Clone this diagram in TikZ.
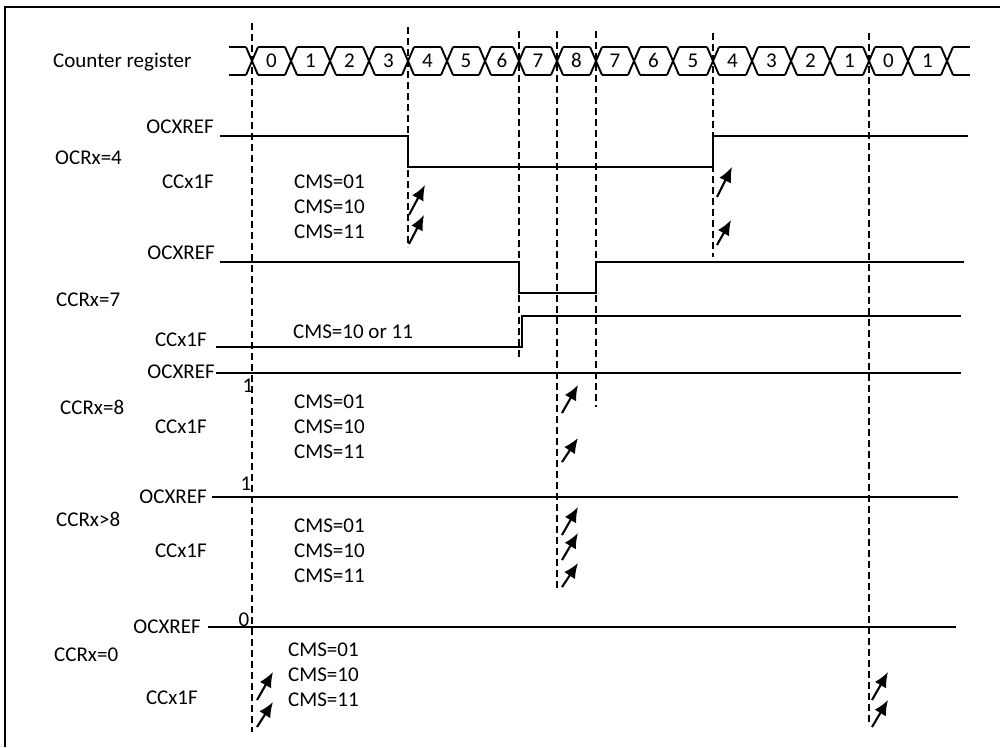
\documentclass[tikz,border=0pt]{standalone}
\usepackage{fontspec}
\setmainfont{Carlito}
\usetikzlibrary{arrows.meta}
\begin{document}
\begin{tikzpicture}[x=1pt,y=-1pt,
  every node/.style={font=\fontsize{21}{23}\selectfont, inner sep=0pt, text height=13.5pt, text depth=0pt},
  sig/.style={line width=2.1pt, line join=miter},
  bus/.style={line width=1.9pt},
  guide/.style={line width=1.8pt, dash pattern=on 7pt off 4pt},
  flag/.style={line width=2.1pt, -{Latex[length=15pt,width=13pt]}},
  lab/.style={anchor=east},
  grp/.style={anchor=west},
  cms/.style={anchor=west}]
\useasboundingbox (0,0) rectangle (1000,747);
% frame
\draw[line width=2.5pt] (5,747) -- (5,7) -- (1000,7);

% counter register bus
\node[grp] (cnt) at (53,61) {Counter register};
\def\bt{47}\def\bb{75}\def\bm{61}
\draw[bus] (229,\bt) -- (246,\bt) (229,\bb) -- (246,\bb);
\draw[bus] (953,\bt) -- (970,\bt) (953,\bb) -- (970,\bb);
\foreach \c in {252,291,330,369,408,447,485,519,557,596,634,673,713,752,791,830,869,908,947}{
  \draw[bus] (\c-6,\bt) -- (\c+6,\bb) (\c-6,\bb) -- (\c+6,\bt);
}
\foreach \a/\b/\v [count=\i] in {252/291/0,291/330/1,330/369/2,369/408/3,408/447/4,447/485/5,485/519/6,519/557/7,557/596/8,596/634/7,634/673/6,673/713/5,713/752/4,752/791/3,791/830/2,830/869/1,869/908/0,908/947/1}{
  \draw[bus] (\a+6,\bt) -- (\b-6,\bt) (\a+6,\bb) -- (\b-6,\bb);
  \node (cell\i) at ({(\a+\b)/2},\bm) {\v};
}

% dashed guides
\draw[guide] (252,23) -- (252,732);
\draw[guide] (408,27) -- (408,247);
\draw[guide] (519,31) -- (519,358);
\draw[guide] (557,31) -- (557,588);
\draw[guide] (596,31) -- (596,407);
\draw[guide] (713,33) -- (713,257);
\draw[guide] (869,33) -- (869,724);

% row 1: OCRx=4
\node[lab] (r1ref) at (214,127) {OCXREF};
\node[grp] (r1name) at (55,158) {OCRx=4};
\node[lab] (r1cc) at (214,182) {CCx1F};
\node[cms] (r1a) at (294,182) {CMS=01};
\node[cms] (r1b) at (294,207) {CMS=10};
\node[cms] (r1c) at (294,232) {CMS=11};
\draw[sig] (220,136) -- (408,136) -- (408,167) -- (713,167) -- (713,136) -- (968,136);
\draw[flag] (409,215) -- (425,185);
\draw[flag] (409,244) -- (424,215);
\draw[flag] (717,197) -- (732,167);
\draw[flag] (717,245) -- (731,220);

% row 2: CCRx=7
\node[lab] (r2ref) at (215,253) {OCXREF};
\node[grp] (r2name) at (56,300) {CCRx=7};
\node[lab] (r2cc) at (207,340) {CCx1F};
\node[cms] (r2a) at (293,332) {CMS=10 or 11};
\draw[sig] (220,262) -- (519,262) -- (519,293) -- (596,293) -- (596,262) -- (964,262);
\draw[sig] (216,347) -- (522,347) -- (522,316) -- (961,316);

% row 3: CCRx=8
\node[lab] (r3ref) at (215,372) {OCXREF};
\node (r3one) at (248,386) {1};
\node[grp] (r3name) at (60,408) {CCRx=8};
\node[lab] (r3cc) at (207,427) {CCx1F};
\node[cms] (r3a) at (294,402) {CMS=01};
\node[cms] (r3b) at (294,427) {CMS=10};
\node[cms] (r3c) at (294,452) {CMS=11};
\draw[sig] (216,373) -- (961,373);
\draw[flag] (562,413) -- (578,385);
\draw[flag] (562,462) -- (578,438);

% row 4: CCRx>8
\node (r4one) at (246,484) {1};
\node[lab] (r4ref) at (207,497) {OCXREF};
\node[grp] (r4name) at (56,520) {CCRx>8};
\node[lab] (r4cc) at (207,551) {CCx1F};
\node[cms] (r4a) at (294,526) {CMS=01};
\node[cms] (r4b) at (294,551) {CMS=10};
\node[cms] (r4c) at (294,576) {CMS=11};
\draw[sig] (212,497) -- (958,497);
\draw[flag] (562,535) -- (578,507);
\draw[flag] (562,560) -- (578,533);
\draw[flag] (562,587) -- (578,563);

% row 5: CCRx=0
\node (r5zero) at (244,620) {0};
\node[lab] (r5ref) at (201,627) {OCXREF};
\node[grp] (r5name) at (54,655) {CCRx=0};
\node[cms] (r5a) at (288,650) {CMS=01};
\node[cms] (r5b) at (288,675) {CMS=10};
\node[cms] (r5c) at (288,700) {CMS=11};
\node[lab] (r5cc) at (198,698) {CCx1F};
\draw[sig] (208,627) -- (956,627);
\draw[flag] (257,700) -- (273,672);
\draw[flag] (257,727) -- (273,702);
\draw[flag] (872,700) -- (888,672);
\draw[flag] (872,727) -- (888,700);
\end{tikzpicture}
\end{document}
